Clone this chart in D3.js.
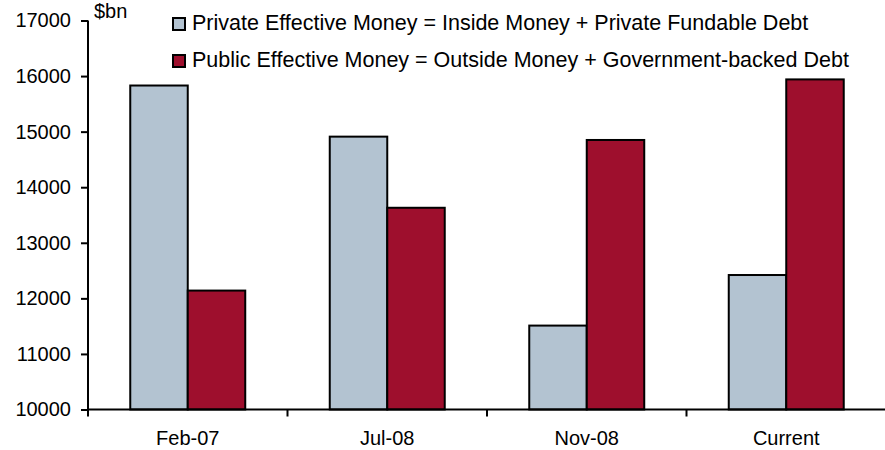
<!DOCTYPE html>
<html>
<head>
<meta charset="utf-8">
<script src="https://cdn.jsdelivr.net/npm/d3@7"></script>
<style>
body { margin: 0; background: #fff; }
text { font-family: "Liberation Sans", Arial, sans-serif; fill: #000; }
</style>
</head>
<body>
<script>
var categories = ["Feb-07", "Jul-08", "Nov-08", "Current"];
var privateMoney = [15830, 14910, 11510, 12420];
var publicMoney = [12140, 13630, 14850, 15940];
var seriesNames = ["Private Effective Money = Inside Money + Private Fundable Debt",
                   "Public Effective Money = Outside Money + Government-backed Debt"];
var seriesColors = ["#B3C3D1", "#9E0F2D"];
var yTicks = [10000, 11000, 12000, 13000, 14000, 15000, 16000, 17000];

var chartW = 885, chartH = 450;
var plotLeft = 88, plotRight = 886, plotTop = 20.5, plotBottom = 409.5;

var svg = d3.select("body").append("svg")
            .attr("width", chartW)
            .attr("height", chartH);

var x = d3.scaleBand()
          .domain(categories)
          .range([plotLeft, plotRight])
          .paddingInner(0)
          .paddingOuter(0);

// two bars per category, ~57px each, centred in the band
var x1 = d3.scaleBand()
           .domain([0, 1])
           .range([0, x.bandwidth()])
           .paddingOuter(0.735)
           .paddingInner(0);

var y = d3.scaleLinear()
          .domain([10000, 17000])
          .range([plotBottom, plotTop]);

var rows = categories.map(function(c, i) {
  return {cat: c, vals: [privateMoney[i], publicMoney[i]]};
});

var groups = svg.append("g")
                .selectAll("g")
                .data(rows)
                .enter()
                .append("g")
                .attr("transform", function(d) { return "translate(" + x(d.cat) + ",0)"; });

groups.selectAll("rect")
      .data(function(d) { return d.vals.map(function(v, j) { return {v: v, j: j}; }); })
      .enter()
      .append("rect")
      .attr("x", function(d) { return x1(d.j); })
      .attr("y", function(d) { return y(d.v); })
      .attr("width", x1.bandwidth())
      .attr("height", function(d) { return plotBottom - y(d.v); })
      .attr("fill", function(d) { return seriesColors[d.j]; })
      .attr("stroke", "#000")
      .attr("stroke-width", 2);

// y axis
var yAxis = svg.append("g")
               .attr("transform", "translate(" + plotLeft + ",0)")
               .call(d3.axisLeft(y).tickValues(yTicks).tickSize(7).tickPadding(10).tickFormat(d3.format("d")));
yAxis.select(".domain").attr("stroke", "#000").attr("stroke-width", 2)
     .attr("d", "M0," + plotTop + "V" + plotBottom);
yAxis.selectAll(".tick line").attr("stroke", "#000").attr("stroke-width", 2);
yAxis.selectAll("text").style("font-size", "20px").style("font-family", "Liberation Sans, Arial, sans-serif");

// x axis
svg.append("line")
   .attr("x1", plotLeft).attr("x2", plotRight)
   .attr("y1", plotBottom).attr("y2", plotBottom)
   .attr("stroke", "#000").attr("stroke-width", 2);

var xTickPos = categories.map(function(c) { return x(c); }).concat([plotRight]);
svg.append("g").selectAll("line")
   .data(xTickPos)
   .enter()
   .append("line")
   .attr("x1", function(d) { return d; }).attr("x2", function(d) { return d; })
   .attr("y1", plotBottom).attr("y2", plotBottom + 7)
   .attr("stroke", "#000").attr("stroke-width", 2);

svg.append("g").selectAll("text")
   .data(categories)
   .enter()
   .append("text")
   .attr("x", function(d) { return x(d) + x.bandwidth() / 2; })
   .attr("y", 445)
   .attr("text-anchor", "middle")
   .style("font-size", "20px")
   .text(function(d) { return d; });

svg.append("text")
   .attr("x", 94).attr("y", 18)
   .style("font-size", "20px")
   .text("$bn");

// legend
var legend = svg.append("g")
                .selectAll("g")
                .data(seriesNames)
                .enter()
                .append("g")
                .attr("transform", function(d, i) { return "translate(173," + (18 + i * 37) + ")"; });

legend.append("rect")
      .attr("width", 12).attr("height", 12)
      .attr("fill", function(d, i) { return seriesColors[i]; })
      .attr("stroke", "#000").attr("stroke-width", 2);

legend.append("text")
      .attr("x", 19).attr("y", 11.5)
      .style("font-size", "21.5px")
      .text(function(d) { return d; });
</script>
</body>
</html>
